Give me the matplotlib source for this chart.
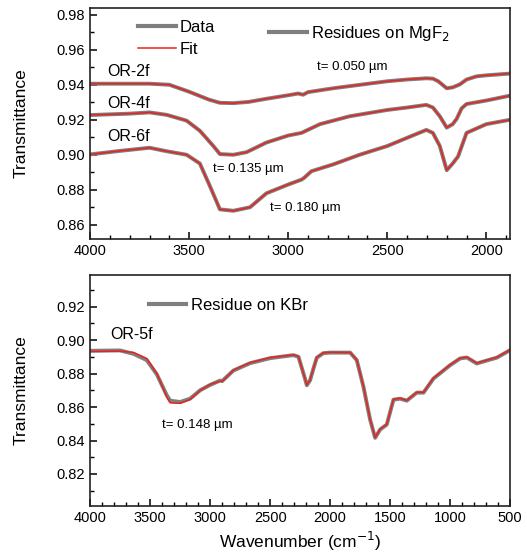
import matplotlib
matplotlib.use("Agg")
import matplotlib.pyplot as plt
from matplotlib.lines import Line2D
from matplotlib.ticker import MultipleLocator

plt.rcParams['font.family'] = ['Liberation Sans', 'DejaVu Sans']

# top panel: residues on MgF2 (wavenumber in cm-1, transmittance)
wn_2f = [4000, 3700, 3600, 3500, 3400, 3345, 3277, 3200, 3110, 3000, 2950, 2925, 2900,
         2773, 2650, 2500, 2400, 2303, 2270, 2243, 2200, 2170, 2134, 2100, 2050, 2000, 1880]
t_2f = [0.9406, 0.9406, 0.9400, 0.9360, 0.9315, 0.9297, 0.9295, 0.9302, 0.9320, 0.9340,
        0.9350, 0.9343, 0.9358, 0.9380, 0.9398, 0.9420, 0.9430, 0.9437, 0.9435, 0.9420,
        0.9380, 0.9385, 0.9402, 0.9430, 0.9448, 0.9454, 0.9464]

wn_4f = [4000, 3800, 3700, 3613, 3513, 3446, 3378, 3345, 3277, 3210, 3110, 3000, 2933,
         2920, 2840, 2690, 2500, 2400, 2303, 2270, 2235, 2200, 2170, 2150, 2125, 2100,
         2000, 1880]
t_4f = [0.9227, 0.9235, 0.9242, 0.9228, 0.9195, 0.9137, 0.9050, 0.9004, 0.9000, 0.9015,
        0.9070, 0.9110, 0.9125, 0.9132, 0.9175, 0.9220, 0.9256, 0.9270, 0.9285, 0.9270,
        0.9220, 0.9155, 0.9175, 0.9205, 0.9265, 0.9290, 0.9310, 0.9338]

wn_6f = [4000, 3850, 3700, 3613, 3513, 3446, 3395, 3345, 3277, 3193, 3110, 3000, 2933,
         2920, 2883, 2773, 2640, 2500, 2404, 2303, 2270, 2235, 2200, 2170, 2143, 2100,
         2000, 1880]
t_6f = [0.9002, 0.9022, 0.9040, 0.9020, 0.9000, 0.8950, 0.8820, 0.8688, 0.8680, 0.8700,
        0.8780, 0.8830, 0.8858, 0.8868, 0.8906, 0.8945, 0.9000, 0.9050, 0.9095, 0.9142,
        0.9125, 0.9050, 0.8912, 0.8950, 0.8990, 0.9125, 0.9175, 0.9200]

# bottom panel: residue on KBr
wn_5f = [4000, 3750, 3639, 3528, 3444, 3361, 3333, 3250, 3167, 3083, 3000, 2917, 2900,
         2806, 2667, 2500, 2306, 2264, 2222, 2194, 2167, 2139, 2111, 2056, 2000, 1833,
         1778, 1722, 1667, 1625, 1583, 1528, 1472, 1417, 1361, 1278, 1222, 1139, 1000,
         917, 861, 778, 694, 611, 500]
t_5f_data = [0.8936, 0.8938, 0.8918, 0.8880, 0.8795, 0.8670, 0.8638, 0.8630, 0.8650,
             0.8700, 0.8732, 0.8758, 0.8755, 0.8818, 0.8862, 0.8892, 0.8910, 0.8900,
             0.8800, 0.8730, 0.8760, 0.8830, 0.8895, 0.8922, 0.8925, 0.8925, 0.8880,
             0.8720, 0.8525, 0.8416, 0.8466, 0.8495, 0.8644, 0.8650, 0.8638, 0.8686,
             0.8686, 0.8770, 0.8850, 0.8890, 0.8896, 0.8860, 0.8878, 0.8895, 0.8940]
t_5f_fit = [0.8932, 0.8934, 0.8926, 0.8890, 0.8800, 0.8660, 0.8625, 0.8622, 0.8645,
            0.8700, 0.8735, 0.8755, 0.8752, 0.8820, 0.8865, 0.8895, 0.8912, 0.8902,
            0.8800, 0.8732, 0.8762, 0.8832, 0.8897, 0.8924, 0.8927, 0.8926, 0.8882,
            0.8722, 0.8527, 0.8418, 0.8468, 0.8497, 0.8646, 0.8652, 0.8640, 0.8688,
            0.8688, 0.8772, 0.8852, 0.8892, 0.8898, 0.8862, 0.8880, 0.8897, 0.8942]

gray = '#7f7f7f'
red = '#e8231f'

fig = plt.figure(figsize=(5.27, 5.54), dpi=100)
ax1 = fig.add_axes([0.171, 0.569, 0.797, 0.417])
ax2 = fig.add_axes([0.171, 0.087, 0.797, 0.417])

for wn, t in [(wn_2f, t_2f), (wn_4f, t_4f), (wn_6f, t_6f)]:
    ax1.plot(wn, t, color=gray, lw=2.8)
    ax1.plot(wn, t, color=red, lw=1.1)

ax2.plot(wn_5f, t_5f_data, color=gray, lw=2.8)
ax2.plot(wn_5f, t_5f_fit, color=red, lw=1.1)

ax1.set_xlim(4000, 1880)
ax1.set_ylim(0.852, 0.984)
ax1.set_xticks([4000, 3500, 3000, 2500, 2000])
ax1.set_yticks([0.86, 0.88, 0.90, 0.92, 0.94, 0.96, 0.98])

ax2.set_xlim(4000, 500)
ax2.set_ylim(0.801, 0.939)
ax2.set_xticks([4000, 3500, 3000, 2500, 2000, 1500, 1000, 500])
ax2.set_yticks([0.82, 0.84, 0.86, 0.88, 0.90, 0.92])

for ax in (ax1, ax2):
    ax.yaxis.set_major_formatter(plt.FormatStrFormatter('%.2f'))
    ax.xaxis.set_minor_locator(MultipleLocator(100))
    ax.yaxis.set_minor_locator(MultipleLocator(0.01))
    ax.tick_params(which='both', direction='in', top=False, right=False, labelsize=10.5)
    ax.tick_params(which='major', length=5, width=1.1)
    ax.tick_params(which='minor', length=3, width=1.0)
    for s in ax.spines.values():
        s.set_linewidth(1.2)
        s.set_color('#222222')
    ax.set_ylabel('Transmittance', fontsize=12.5, labelpad=20)

ax2.set_xlabel('Wavenumber (cm$^{-1}$)', fontsize=12.5, labelpad=4)

# labels
ax1.text(3915, 0.9475, 'OR-2f', fontsize=11.5, va='center')
ax1.text(3915, 0.9295, 'OR-4f', fontsize=11.5, va='center')
ax1.text(3915, 0.9103, 'OR-6f', fontsize=11.5, va='center')
ax1.text(2857, 0.9502, 't= 0.050 µm', fontsize=9.5, va='center')
ax1.text(3378, 0.8919, 't= 0.135 µm', fontsize=9.5, va='center')
ax1.text(3092, 0.8694, 't= 0.180 µm', fontsize=9.5, va='center')

ax2.text(3833, 0.9031, 'OR-5f', fontsize=11.5, va='center')
ax2.text(3403, 0.8494, 't= 0.148 µm', fontsize=9.5, va='center')

leg1 = ax1.legend([Line2D([], [], color=gray, lw=3), Line2D([], [], color=red, lw=1.1)],
                  ['Data', 'Fit'], loc='upper left', bbox_to_anchor=(0.097, 0.975),
                  frameon=False, fontsize=12, handlelength=2.3, handletextpad=0.2,
                  labelspacing=0.4, borderaxespad=0)
ax1.add_artist(leg1)
ax1.legend([Line2D([], [], color=gray, lw=3)], ['Residues on MgF$_2$'],
           loc='upper left', bbox_to_anchor=(0.41, 0.958), frameon=False, fontsize=12,
           handlelength=2.3, handletextpad=0.25, borderaxespad=0)

ax2.legend([Line2D([], [], color=gray, lw=3)], ['Residue on KBr'],
           loc='upper left', bbox_to_anchor=(0.125, 0.93), frameon=False, fontsize=12,
           handlelength=2.2, handletextpad=0.3, borderaxespad=0)

fig.savefig('out.png', dpi=100)
